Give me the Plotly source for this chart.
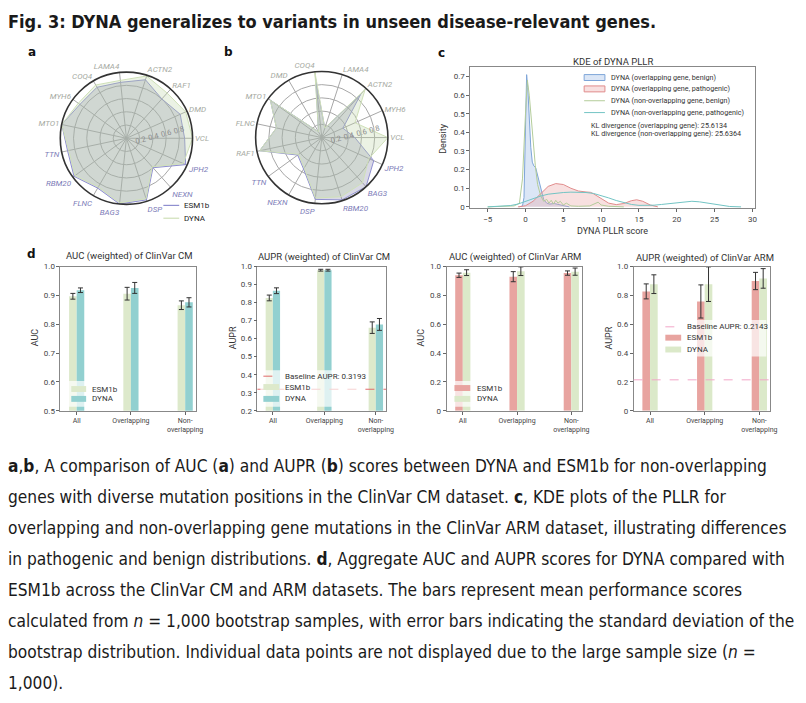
import plotly.graph_objects as go

W, H = 806, 703
def px(x): return x / W
def py(y): return 1 - y / H

# ---------------- data ----------------
genes_a = ["VCL","DMD","RAF1","ACTN2","LAMA4","COQ4","MYH6","MTO1","TTN","RBM20","FLNC","BAG3","DSP","NEXN","JPH2"]
esm_a   = [0.88,0.89,0.80,0.93,0.85,0.89,0.87,1.00,0.91,0.98,0.87,1.00,0.98,0.60,0.98]
dyna_a  = [1.00,0.98,0.92,0.99,0.88,0.93,0.90,1.00,0.89,0.96,0.85,0.98,0.96,0.58,0.94]

genes_b = ["VCL","MYH6","ACTN2","LAMA4","COQ4","DMD","MTO1","FLNC","RAF1","TTN","NEXN","DSP","RBM20","BAG3","JPH2"]
esm_b   = [0.50,0.35,0.88,0.15,0.88,0.10,0.96,0.70,0.96,0.45,0.55,0.94,0.99,1.00,0.86]
dyna_b  = [1.00,0.55,0.98,0.15,1.00,0.10,0.96,0.70,0.96,0.43,0.53,0.92,0.94,0.92,0.78]
radial_ticks = [0.2, 0.4, 0.6, 0.8]

# KDE curves (panel c)
ob_x = [-0.8,-0.4,-0.2,0.0,0.15,0.3,0.5,0.7,0.9,1.1,1.35,1.6,1.85,2.1,2.4,2.8,3.2,3.8,4.5,5.2,5.8]
ob_y = [0,0.005,0.05,0.40,0.71,0.64,0.48,0.32,0.24,0.22,0.21,0.17,0.12,0.08,0.04,0.02,0.015,0.018,0.01,0.005,0]
op_x = [-1,-0.4,0,1,2,3,4,5,6,7,8,8.6,9,10,11,12,13,14,14.7,15.5,16.5,17.5]
op_y = [0,0.002,0.006,0.03,0.07,0.11,0.125,0.12,0.10,0.085,0.08,0.078,0.07,0.045,0.02,0.012,0.018,0.033,0.038,0.03,0.01,0]
nb_x = [-5,-3,-1.5,-0.8,-0.4,0.0,0.25,0.5,0.8,1.0,1.3,1.6,2.0,2.4,2.8,3.1,3.4,3.7,4.0,4.3,4.6,5.0,5.4,6.0,7.0,8.5,9.2,9.6,10.0,11,13]
nb_y = [0,0.002,0.005,0.02,0.15,0.50,0.68,0.60,0.45,0.35,0.22,0.12,0.06,0.03,0.04,0.02,0.035,0.015,0.035,0.02,0.03,0.01,0.02,0.005,0.003,0.005,0.02,0.025,0.01,0.003,0]
np_x = [-5,-3,-2,-1,0,1,2,3,4,5,6,7,8,9,10,11,12,13,14,15,16,17,18,19,20,21,22,23,24,25,26,27,28.5]
np_y = [0,0.003,0.007,0.015,0.03,0.045,0.058,0.068,0.074,0.077,0.079,0.079,0.077,0.072,0.062,0.048,0.034,0.022,0.013,0.008,0.007,0.009,0.013,0.018,0.022,0.028,0.030,0.027,0.020,0.012,0.006,0.002,0]
kl_overlap = "25.6134"
kl_nonoverlap = "25.6364"

# Bars (panel d)
cats = ["All", "Overlapping", "Non-overlapping"]
cat_labels = ["All", "Overlapping", "Non-<br>overlapping"]
cm_auc_esm   = [0.897, 0.906, 0.866];  cm_auc_esm_sd  = [0.010, 0.022, 0.015]
cm_auc_dyna  = [0.918, 0.926, 0.876];  cm_auc_dyna_sd = [0.008, 0.019, 0.016]
cm_aupr_esm  = [0.826, 0.980, 0.661];  cm_aupr_esm_sd  = [0.016, 0.005, 0.032]
cm_aupr_dyna = [0.866, 0.980, 0.679];  cm_aupr_dyna_sd = [0.016, 0.005, 0.033]
arm_auc_esm  = [0.940, 0.930, 0.955];  arm_auc_esm_sd  = [0.015, 0.035, 0.015]
arm_auc_dyna = [0.958, 0.968, 0.965];  arm_auc_dyna_sd = [0.020, 0.030, 0.025]
arm_aupr_esm = [0.828, 0.758, 0.900];  arm_aupr_esm_sd  = [0.052, 0.115, 0.060]
arm_aupr_dyna= [0.878, 0.878, 0.918];  arm_aupr_dyna_sd = [0.065, 0.120, 0.068]
baseline_cm = 0.3193
baseline_arm = 0.2143

# ---------------- styles ----------------
FONT = "Roboto"
CAP = "DejaVu Sans Condensed, DejaVu Sans, sans-serif"
GRAY_LBL = "#a6aaa2"
PURP_LBL = "#7c7cb8"
ESM_LINE = "#8f8fd0"
DYNA_LINE = "#cfe0b8"
ESM_FILL = "rgba(140,140,175,0.33)"
DYNA_FILL = "rgba(190,212,165,0.30)"
C_BLUE_L, C_BLUE_F = "#7ea5d8", "rgba(160,190,232,0.38)"
C_RED_L, C_RED_F = "#e08c8c", "rgba(236,165,165,0.35)"
C_GREEN_L, C_TEAL_L = "#b3cc9a", "#72c4c4"
CM_E, CM_D = "#dde9cb", "#92d0d0"
ARM_E, ARM_D = "#e8a4a0", "#dbe9c9"
BASE_CM_C, BASE_ARM_C = "#e06a6a", "#f2a6c8"

fig = go.Figure()

def styled(genes, e, d):
    out = []
    for g, ev, dv in zip(genes, e, d):
        c = GRAY_LBL if dv >= ev else PURP_LBL
        out.append(f'<span style="color:{c}"><i>{g}</i></span>')
    return out

for pol, genes, e, d in [("polar", genes_a, esm_a, dyna_a), ("polar2", genes_b, esm_b, dyna_b)]:
    fig.add_trace(go.Scatterpolar(r=e + e[:1], theta=genes + genes[:1], subplot=pol, mode="lines",
                                  fill="toself", fillcolor=ESM_FILL, line=dict(color=ESM_LINE, width=1),
                                  showlegend=False, name="ESM1b"))
    fig.add_trace(go.Scatterpolar(r=d + d[:1], theta=genes + genes[:1], subplot=pol, mode="lines",
                                  fill="toself", fillcolor=DYNA_FILL, line=dict(color=DYNA_LINE, width=1),
                                  showlegend=False, name="DYNA"))

def polar_layout(cx, cy, R, genes, e, d):
    return dict(
        domain=dict(x=[px(cx - R), px(cx + R)], y=[py(cy + R), py(cy - R)]),
        bgcolor="white",
        radialaxis=dict(range=[0, 1], tickvals=radial_ticks, angle=15, showline=False, ticks="",
                        tickfont=dict(size=7.5, color="#8a8a8a", family=FONT), gridcolor="#a8a8a8",
                        gridwidth=0.6, tickangle=0),
        angularaxis=dict(type="category", categoryorder="array", categoryarray=genes,
                         tickmode="array", tickvals=genes, ticktext=styled(genes, e, d),
                         rotation=0, direction="counterclockwise", gridcolor="#a8a8a8", gridwidth=0.6,
                         showline=True, linecolor="#333", linewidth=1.6, ticks="",
                         tickfont=dict(size=8, family=FONT)),
    )

# ---------------- panel c ----------------
fig.add_trace(go.Scatter(x=ob_x, y=ob_y, xaxis="x", yaxis="y", mode="lines", fill="tozeroy",
                         fillcolor=C_BLUE_F, line=dict(color=C_BLUE_L, width=1),
                         name="DYNA (overlapping gene, benign)", showlegend=False))
fig.add_trace(go.Scatter(x=op_x, y=op_y, xaxis="x", yaxis="y", mode="lines", fill="tozeroy",
                         fillcolor=C_RED_F, line=dict(color=C_RED_L, width=1),
                         name="DYNA (overlapping gene, pathogenic)", showlegend=False))
fig.add_trace(go.Scatter(x=nb_x, y=nb_y, xaxis="x", yaxis="y", mode="lines",
                         line=dict(color=C_GREEN_L, width=1),
                         name="DYNA (non-overlapping gene, benign)", showlegend=False))
fig.add_trace(go.Scatter(x=np_x, y=np_y, xaxis="x", yaxis="y", mode="lines",
                         line=dict(color=C_TEAL_L, width=1),
                         name="DYNA (non-overlapping gene, pathogenic)", showlegend=False))

# ---------------- panel d ----------------
BW = 0.14
panels = [
    ("x2", "y2", cm_auc_esm, cm_auc_esm_sd, cm_auc_dyna, cm_auc_dyna_sd, CM_E, CM_D, None),
    ("x3", "y3", cm_aupr_esm, cm_aupr_esm_sd, cm_aupr_dyna, cm_aupr_dyna_sd, CM_E, CM_D, (baseline_cm, BASE_CM_C)),
    ("x4", "y4", arm_auc_esm, arm_auc_esm_sd, arm_auc_dyna, arm_auc_dyna_sd, ARM_E, ARM_D, None),
    ("x5", "y5", arm_aupr_esm, arm_aupr_esm_sd, arm_aupr_dyna, arm_aupr_dyna_sd, ARM_E, ARM_D, (baseline_arm, BASE_ARM_C)),
]
shapes = []
for xa, ya, e, esd, d, dsd, ce, cd, base in panels:
    fig.add_trace(go.Bar(x=cats, y=e, xaxis=xa, yaxis=ya, width=BW, offset=-BW, marker_color=ce,
                         marker_line_width=0, name="ESM1b", showlegend=False,
                         error_y=dict(type="data", array=esd, color="#333", thickness=1, width=2.5)))
    fig.add_trace(go.Bar(x=cats, y=d, xaxis=xa, yaxis=ya, width=BW, offset=0, marker_color=cd,
                         marker_line_width=0, name="DYNA", showlegend=False,
                         error_y=dict(type="data", array=dsd, color="#333", thickness=1, width=2.5)))
    if base is not None:
        shapes.append(dict(type="line", xref=f"{xa} domain", yref=ya, x0=0, x1=1, y0=base[0], y1=base[0],
                           line=dict(color=base[1], width=1, dash="dash"), layer="above"))

# ---------------- layout ----------------
tickf = dict(size=8, color="#444", family=FONT)
ax_common = dict(showline=True, linecolor="#888", linewidth=0.8, mirror=True, ticks="outside",
                 ticklen=3, tickcolor="#666", showgrid=False, zeroline=False, tickfont=tickf)

def bar_x(dom):
    return dict(domain=dom, type="category", categoryorder="array", categoryarray=cats,
                tickmode="array", tickvals=cats, ticktext=cat_labels, range=[-0.3, 2.2],
                **{k: v for k, v in ax_common.items() if k != "tickfont"},
                tickfont=dict(size=7, color="#444", family=FONT))

ydom_d = [py(412), py(266)]
layout = dict(
    width=W, height=H, autosize=False, margin=dict(l=0, r=0, t=0, b=0),
    paper_bgcolor="white", plot_bgcolor="white", barmode="overlay", showlegend=False,
    font=dict(family=FONT, color="#333"),
    polar=polar_layout(127.7, 136, 67, genes_a, esm_a, dyna_a),
    polar2=polar_layout(325, 135.3, 67, genes_b, esm_b, dyna_b),
    xaxis=dict(domain=[px(475), px(763)], anchor="y", range=[-7.3, 30.4],
               tickvals=[-5, 0, 5, 10, 15, 20, 25, 30], **ax_common),
    yaxis=dict(domain=[py(207), py(64)], anchor="x", range=[-0.008, 0.75],
               tickvals=[0, 0.1, 0.2, 0.3, 0.4, 0.5, 0.6, 0.7],
               ticktext=["0", "0.1", "0.2", "0.3", "0.4", "0.5", "0.6", "0.7"], **ax_common),
    xaxis2=dict(anchor="y2", **bar_x([px(61), px(198)])),
    yaxis2=dict(domain=ydom_d, anchor="x2", range=[0.5, 1.0], tickvals=[0.5, 0.6, 0.7, 0.8, 0.9, 1.0],
                tickformat=".1f", **ax_common),
    xaxis3=dict(anchor="y3", **bar_x([px(260), px(390)])),
    yaxis3=dict(domain=ydom_d, anchor="x3", range=[0.2, 1.0],
                tickvals=[0.2, 0.3, 0.4, 0.5, 0.6, 0.7, 0.8, 0.9, 1.0], tickformat=".1f", **ax_common),
    xaxis4=dict(anchor="y4", **bar_x([px(451), px(588)])),
    yaxis4=dict(domain=ydom_d, anchor="x4", range=[0, 1.0], tickvals=[0, 0.2, 0.4, 0.6, 0.8, 1.0],
                ticktext=["0", "0.2", "0.4", "0.6", "0.8", "1.0"], **ax_common),
    xaxis5=dict(anchor="y5", **bar_x([px(640), px(778)])),
    yaxis5=dict(domain=ydom_d, anchor="x5", range=[0, 1.0], tickvals=[0, 0.2, 0.4, 0.6, 0.8, 1.0],
                ticktext=["0", "0.2", "0.4", "0.6", "0.8", "1.0"], **ax_common),
)
fig.update_layout(**layout)

anns = []
def ann(text, x, y, size, xanchor="center", yanchor="middle", color="#333", family=FONT, angle=0):
    anns.append(dict(text=text, x=px(x), y=py(y), xref="paper", yref="paper", showarrow=False,
                     xanchor=xanchor, yanchor=yanchor, textangle=angle, borderpad=0,
                     font=dict(size=size, color=color, family=family)))

# ---- hand-built compact legends (paper coords) ----
def p_rect(x0, x1, y0, y1, fill, line=None, lw=0, opacity=1):
    shapes.append(dict(type="rect", xref="paper", yref="paper", x0=px(x0), x1=px(x1), y0=py(y1), y1=py(y0),
                       fillcolor=fill, opacity=opacity, layer="above",
                       line=dict(color=line or fill, width=lw)))
def p_line(x0, x1, y, color, dash="solid", lw=1.2):
    shapes.append(dict(type="line", xref="paper", yref="paper", x0=px(x0), x1=px(x1), y0=py(y), y1=py(y),
                       line=dict(color=color, width=lw, dash=dash), layer="above"))

# legend a
p_line(165, 181, 204, ESM_LINE)
ann("ESM1b", 185, 204, 8, xanchor="left", color="#222")
p_line(165, 181, 217, DYNA_LINE)
ann("DYNA", 185, 217, 8, xanchor="left", color="#222")

# legend c
p_rect(590, 611, 71.5, 77.5, C_BLUE_F, C_BLUE_L, 1)
ann("DYNA (overlapping gene, benign)", 616, 74.5, 7.2, xanchor="left")
p_rect(590, 611, 83, 89, C_RED_F, C_RED_L, 1)
ann("DYNA (overlapping gene, pathogenic)", 616, 86, 7.2, xanchor="left")
p_line(590, 611, 98, C_GREEN_L, lw=1)
ann("DYNA (non-overlapping gene, benign)", 616, 98, 7.2, xanchor="left")
p_line(590, 611, 110, C_TEAL_L, lw=1)
ann("DYNA (non-overlapping gene, pathogenic)", 616, 110, 7.2, xanchor="left")
ann(f"KL divergence (overlapping gene): {kl_overlap}", 596, 123, 7.2, xanchor="left")
ann(f"KL divergence (non-overlapping gene): {kl_nonoverlap}", 596, 131, 7.2, xanchor="left")

# legends d
p_rect(67, 117, 382, 408, "white", opacity=0.7)
p_rect(72, 87, 387, 393, CM_E); ann("ESM1b", 92, 390, 8, xanchor="left")
p_rect(72, 87, 397, 403, CM_D); ann("DYNA", 92, 400, 8, xanchor="left")

p_rect(263, 364, 371, 408, "white", opacity=0.7)
p_line(266, 282, 377, BASE_CM_C, "dash", 1)
ann(f"Baseline AUPR: {baseline_cm:.4f}", 287, 377, 8, xanchor="left")
p_rect(266, 282, 385, 391, CM_E); ann("ESM1b", 287, 388, 8, xanchor="left")
p_rect(266, 282, 397, 403, CM_D); ann("DYNA", 287, 400, 8, xanchor="left")

p_rect(455, 502, 382, 408, "white", opacity=0.7)
p_rect(459, 475, 386, 392, ARM_E); ann("ESM1b", 481, 389, 8, xanchor="left")
p_rect(459, 475, 397, 403, ARM_D); ann("DYNA", 481, 400, 8, xanchor="left")

p_rect(668, 774, 320, 357, "white", opacity=0.7)
p_line(672, 688, 327, BASE_ARM_C, "dash", 1)
ann(f"Baseline AUPR: {baseline_arm:.4f}", 693, 327, 8, xanchor="left")
p_rect(672, 688, 335, 341, ARM_E); ann("ESM1b", 693, 338, 8, xanchor="left")
p_rect(672, 688, 347, 353, ARM_D); ann("DYNA", 693, 350, 8, xanchor="left")

ann("<b>Fig. 3: DYNA generalizes to variants in unseen disease-relevant genes.</b>", 7, 18, 18,
    xanchor="left", color="#1a1a1a", family=CAP)
for t, x, y in [("a", 32, 49), ("b", 231, 49), ("c", 446, 50), ("d", 32, 253)]:
    ann(f"<b>{t}</b>", x, y, 12, color="#111", family="DejaVu Sans")

ann("KDE of DYNA PLLR", 619, 58, 9.5)
ann("DYNA PLLR score", 619, 230, 9)
ann("Density", 448, 137, 9, angle=-90)

ann("AUC (weighted) of ClinVar CM", 130, 255, 9.5)
ann("AUPR (weighted) of ClinVar CM", 327, 256, 9.5)
ann("AUC (weighted) of ClinVar ARM", 520, 256, 9.5)
ann("AUPR (weighted) of ClinVar ARM", 712, 257, 9.5)
ann("AUC", 35, 338, 9, angle=-90)
ann("AUPR", 235, 338, 9, angle=-90)
ann("AUC", 425, 338, 9, angle=-90)
ann("AUPR", 615, 338, 9, angle=-90)

caption = [
    "<b>a</b>,<b>b</b>, A comparison of AUC (<b>a</b>) and AUPR (<b>b</b>) scores between DYNA and ESM1b for non-overlapping",
    "genes with diverse mutation positions in the ClinVar CM dataset. <b>c</b>, KDE plots of the PLLR for",
    "overlapping and non-overlapping gene mutations in the ClinVar ARM dataset, illustrating differences",
    "in pathogenic and benign distributions. <b>d</b>, Aggregate AUC and AUPR scores for DYNA compared with",
    "ESM1b across the ClinVar CM and ARM datasets. The bars represent mean performance scores",
    "calculated from <i>n</i> = 1,000 bootstrap samples, with error bars indicating the standard deviation of the",
    "bootstrap distribution. Individual data points are not displayed due to the large sample size (<i>n</i> =",
    "1,000).",
]
for i, line in enumerate(caption):
    ann(line, 7, 468 + 31.4 * i, 17.2, xanchor="left", color="#1a1a1a", family=CAP)

fig.update_layout(annotations=anns, shapes=shapes)
post = (
    "var de=document.documentElement, b=document.body;"
    "[de,b].forEach(function(e){e.style.margin='0';e.style.padding='0';e.style.overflow='hidden';"
    "e.style.width='806px';e.style.height='703px';});"
    "var g=document.querySelector('.plotly-graph-div');"
    "if(g){g.style.overflow='hidden';var p=g.parentElement;"
    "if(p){p.style.overflow='hidden';p.style.width='806px';p.style.height='703px';}}"
)
fig.write_html("out.html", config={"displayModeBar": False}, post_script=post)
